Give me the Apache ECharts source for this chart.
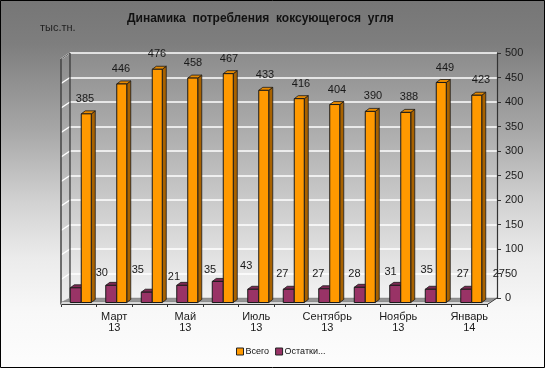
<!DOCTYPE html>
<html>
<head>
<meta charset="utf-8">
<script src="https://cdn.jsdelivr.net/npm/echarts@6/dist/echarts.min.js"></script>
<style>
html,body{margin:0;padding:0;background:#fff;}
#chart{width:545px;height:368px;}
</style>
</head>
<body>
<div id="chart"></div>
<script>
// ---- data ----
const categories = ['Февраль 13','Март 13','Апрель 13','Май 13','Июнь 13','Июль 13','Август 13','Сентябрь 13','Октябрь 13','Ноябрь 13','Декабрь 13','Январь 14'];
const totalValues = [385, 446, 476, 458, 467, 433, 416, 404, 390, 388, 449, 423];
const stockValues = [30, 35, 21, 35, 43, 27, 27, 28, 31, 35, 27, 27];
const seriesNames = ['Всего', 'Остатки...'];
const yMin = 0, yMax = 500, yStep = 50;
const titleText = 'Динамика  потребления  коксующегося  угля';
const unitText = 'тыс.тн.';

const FONT = '"Liberation Sans", Arial, sans-serif';
const chart = echarts.init(document.getElementById('chart'), null, {renderer: 'canvas'});

const styles = {
  total: {front: '#FF9900', side: '#A86200', top: '#E88A00', x: 2.5, w: 10, lblOff: 6.25, lblDrift: 0.5},
  stock: {front: '#993366', side: '#5E1F3F', top: '#7D2953', x: -8.5, w: 11, lblOff: 23, lblDrift: 0.6}
};

function makeBarRenderer(kind) {
  const s = styles[kind];
  return function (params, api) {
    const i = api.value(0), v = api.value(1);
    const base = api.coord([i, 0]);
    const topPt = api.coord([i, v]);
    const cx = base[0];
    const by = base[1] - 1.5;
    const ty = topPt[1] - 1.5;
    const x0 = cx + s.x, w = s.w, d = 4, dt = 3;
    return {
      type: 'group',
      children: [
        {type: 'polygon', shape: {points: [[x0 + w, by], [x0 + w + d, by - dt], [x0 + w + d, ty - dt], [x0 + w, ty]]},
         style: {fill: s.side, stroke: '#1a1a1a', lineWidth: 0.8}},
        {type: 'polygon', shape: {points: [[x0, ty], [x0 + d, ty - dt], [x0 + w + d, ty - dt], [x0 + w, ty]]},
         style: {fill: s.top, stroke: '#1a1a1a', lineWidth: 0.8}},
        {type: 'rect', shape: {x: x0, y: ty, width: w, height: by - ty},
         style: {fill: s.front, stroke: '#1a1a1a', lineWidth: 1}},
        {type: 'text', z2: 50,
         style: {text: String(v), x: cx + s.lblOff + s.lblDrift * i, y: ty - 15,
                 align: 'center', verticalAlign: 'middle', font: '11px ' + FONT, fill: '#1a1a1a'}}
      ]
    };
  };
}

function renderDecor(params, api) {
  const cs = params.coordSys;
  const L = cs.x, T = cs.y, R = cs.x + cs.width, B = cs.y + cs.height;
  const dx = -9, dy = 6;
  const children = [];
  // left side wall
  children.push({type: 'polygon', shape: {points: [[L + dx, T + dy], [L, T], [L, B], [L + dx, B + dy]]},
    style: {fill: {type: 'linear', x: 0, y: 0, x2: 0, y2: 1, colorStops: [{offset: 0, color: '#8a8a8a'}, {offset: 1, color: '#f0f0f0'}]}}});
  for (let v = yMin; v <= yMax; v += yStep) {
    const y = api.coord([0, v])[1];
    children.push({type: 'line', shape: {x1: L + dx, y1: y + dy, x2: L, y2: y}, style: {stroke: '#ffffff', lineWidth: 1.5}});
  }
  children.push({type: 'line', shape: {x1: L + dx, y1: T + dy, x2: L, y2: T}, style: {stroke: '#555', lineWidth: 1}});
  children.push({type: 'line', shape: {x1: L + dx, y1: T + dy, x2: L + dx, y2: B + dy}, style: {stroke: '#444', lineWidth: 1.5}});
  children.push({type: 'line', shape: {x1: L, y1: T, x2: L, y2: B}, style: {stroke: '#333', lineWidth: 1.2}});
  // floor
  children.push({type: 'polygon', shape: {points: [[L, B], [R, B], [R + dx + 1, B + dy - 2], [L + dx + 1, B + dy - 2]]},
    style: {fill: '#959595', stroke: '#777', lineWidth: 0.5}});
  children.push({type: 'polygon', shape: {points: [[L + dx + 1, B + dy - 2], [R + dx + 1, B + dy - 2], [R + dx, B + dy], [L + dx, B + dy]]},
    style: {fill: '#d8d8d8'}});
  children.push({type: 'line', shape: {x1: R, y1: B, x2: R + dx, y2: B + dy}, style: {stroke: '#333', lineWidth: 1}});
  return {type: 'group', children: children};
}

const option = {
  animation: false,
  backgroundColor: {type: 'linear', x: 0, y: 0, x2: 0, y2: 1, colorStops: [
    {offset: 0, color: '#767676'}, {offset: 0.12, color: '#7e7e7e'}, {offset: 0.35, color: '#a6a6a6'},
    {offset: 0.55, color: '#d2d2d2'}, {offset: 0.7, color: '#ebebeb'}, {offset: 0.85, color: '#f8f8f8'}, {offset: 1, color: '#fdfdfd'}]},
  textStyle: {fontFamily: FONT},
  title: [
    {text: titleText, left: 127, top: 13, padding: 0,
     textStyle: {fontFamily: FONT, fontSize: 12, fontWeight: 'bold', color: '#111'}},
    {text: unitText, left: 40, top: 22, padding: 0,
     textStyle: {fontFamily: FONT, fontSize: 11, fontWeight: 'normal', color: '#222'}}
  ],
  legend: {
    left: 236, top: 347, padding: 0, itemGap: 6, itemWidth: 7, itemHeight: 7,
    icon: 'rect',
    itemStyle: {borderColor: '#222', borderWidth: 1},
    textStyle: {fontFamily: FONT, fontSize: 9, color: '#111', padding: [0, 0, 0, -3]},
    data: seriesNames
  },
  grid: [
    {left: 70, right: 48, top: 53, bottom: 70, show: true, borderWidth: 0,
     backgroundColor: {type: 'linear', x: 0, y: 0, x2: 0, y2: 1, colorStops: [{offset: 0, color: '#8c8c8c'}, {offset: 1, color: '#f3f3f3'}]}},
    {left: 61, right: 58, top: 59, bottom: 64, show: false}
  ],
  xAxis: [
    {type: 'category', gridIndex: 0, data: categories, show: false},
    {type: 'category', gridIndex: 1, data: categories,
     axisLine: {show: true, lineStyle: {color: '#333', width: 1}},
     axisTick: {show: true, interval: 0, length: 3, alignWithLabel: false, lineStyle: {color: '#333'}},
     axisLabel: {interval: 0, margin: 7, fontFamily: FONT, fontSize: 11, lineHeight: 11, color: '#1a1a1a',
       formatter: function (val, idx) { return idx % 2 === 1 ? val.replace(' ', '\n') : ''; }}}
  ],
  yAxis: [
    {type: 'value', gridIndex: 0, position: 'right', min: yMin, max: yMax, interval: yStep,
     axisLine: {show: true, lineStyle: {color: '#333', width: 1.2}},
     axisTick: {show: true, length: 4, lineStyle: {color: '#333'}},
     axisLabel: {margin: 8, fontFamily: FONT, fontSize: 11, color: '#1a1a1a'},
     splitLine: {show: true, lineStyle: {color: '#ffffff', width: 1.5}}},
    {type: 'value', gridIndex: 1, min: yMin, max: yMax, interval: yStep, show: false, splitLine: {show: false}}
  ],
  series: [
    {type: 'custom', name: 'decor', xAxisIndex: 0, yAxisIndex: 0, z: 1, silent: true,
     renderItem: renderDecor, data: [[0, 0]]},
    {type: 'custom', name: seriesNames[1], xAxisIndex: 1, yAxisIndex: 1, z: 3,
     itemStyle: {color: styles.stock.front},
     renderItem: makeBarRenderer('stock'), encode: {x: 0, y: 1},
     data: stockValues.map(function (v, i) { return [i, v]; })},
    {type: 'custom', name: seriesNames[0], xAxisIndex: 1, yAxisIndex: 1, z: 4,
     itemStyle: {color: styles.total.front},
     renderItem: makeBarRenderer('total'), encode: {x: 0, y: 1},
     data: totalValues.map(function (v, i) { return [i, v]; })}
  ],
  graphic: [
    {type: 'rect', z: 100, silent: true, shape: {x: 0.5, y: 0.5, width: 544, height: 367},
     style: {fill: 'none', stroke: '#000', lineWidth: 1}}
  ]
};
chart.setOption(option);
</script>
</body>
</html>
